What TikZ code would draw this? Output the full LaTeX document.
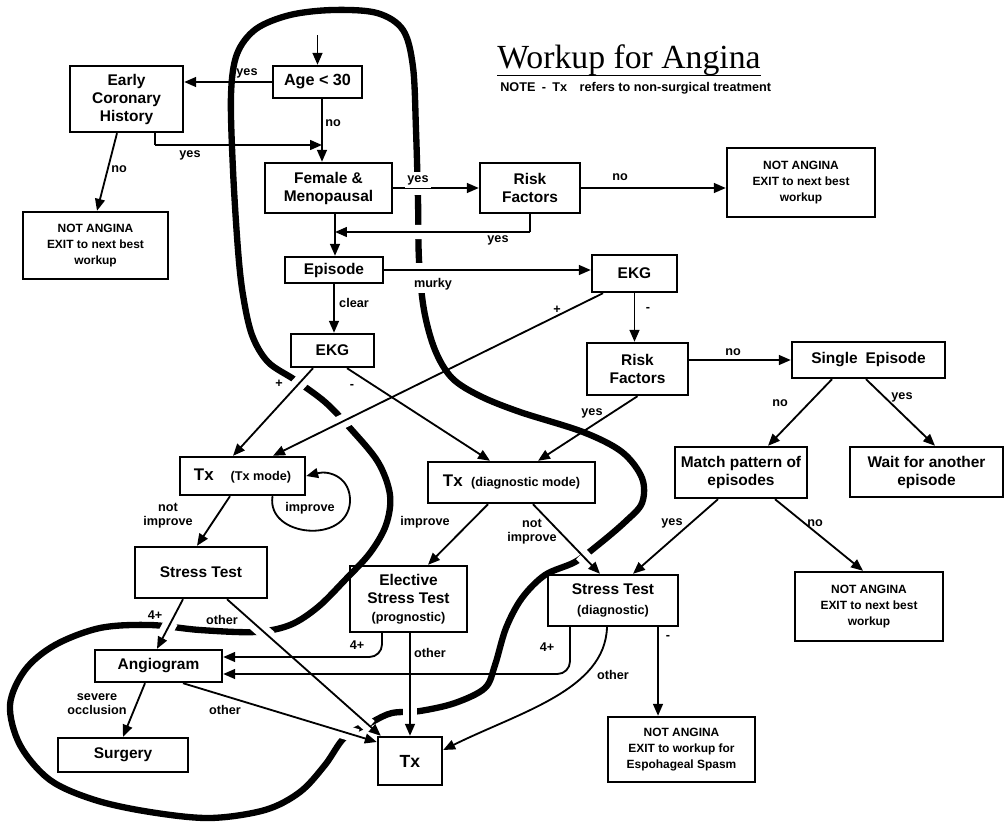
\documentclass[tikz,border=0pt]{standalone}
\usepackage{fontspec}
\setmainfont{Liberation Sans}
\newfontfamily\titlefont{Liberation Serif}
\usetikzlibrary{arrows.meta,calc}
\tikzset{
  box/.style={draw, line width=1.7pt, inner sep=0pt, align=center, font=\bfseries\fontsize{11}{12.8}\selectfont},
  exitbox/.style={box, font=\bfseries\fontsize{8.5}{11.5}\selectfont},
  lbl/.style={font=\bfseries\fontsize{9}{10}\selectfont, inner sep=1pt, align=center},
  wlbl/.style={lbl, fill=white, inner sep=2pt},
  arr/.style={line width=1.3pt, -{Triangle[length=8.5pt,width=7pt]}},
  plain/.style={line width=1.3pt},
  halo/.style={draw=white, line width=10pt},
  boundary/.style={line width=4.5pt, line cap=round, line join=round}
}
\newcommand{\smf}{\fontsize{9}{11}\selectfont}
\begin{document}
\begin{tikzpicture}[x=0.025cm, y=-0.025cm]
\useasboundingbox (0,0) rectangle (1006,822);

% ---------- boxes ----------
\node[box, minimum width=2.225cm, minimum height=0.8cm, font=\bfseries\fontsize{11.5}{13}\selectfont] (age) at (317.5,82) {Age < 30};
\node[box, minimum width=2.825cm, minimum height=1.65cm] (early) at (126.5,99) {Early\\Coronary\\History};
\node[exitbox, minimum width=3.625cm, minimum height=1.675cm] (na1) at (95.5,245.5) {NOT ANGINA\\EXIT to next best\\workup};
\node[box, minimum width=3.175cm, minimum height=1.25cm] (fem) at (328.5,188) {Female \&\\Menopausal};
\node[box, minimum width=2.5cm, minimum height=1.25cm] (risk1) at (530,188) {Risk\\Factors};
\node[exitbox, minimum width=3.7cm, minimum height=1.725cm] (na2) at (801,182.5) {NOT ANGINA\\EXIT to next best\\workup};
\node[box, minimum width=2.45cm, minimum height=0.65cm] (episode) at (334,270) {Episode};
\node[box, minimum width=2.125cm, minimum height=0.925cm] (ekg2) at (634.5,273.5) {EKG};
\node[box, minimum width=2.075cm, minimum height=0.825cm] (ekg1) at (332.5,350.5) {EKG};
\node[box, minimum width=2.525cm, minimum height=1.3cm] (risk2) at (637.5,369) {Risk\\Factors};
\node[box, minimum width=3.825cm, minimum height=0.9cm] (single) at (868.5,360) {Single\enspace Episode};
\node[box, minimum width=3.125cm, minimum height=0.95cm] (txm) at (242.5,476) {\fontsize{12}{13}\selectfont Tx\quad{\smf(Tx mode)}};
\node[box, minimum width=4.175cm, minimum height=1.025cm] (txd) at (511.5,482.5) {\fontsize{12}{13}\selectfont Tx\enspace{\smf(diagnostic mode)}};
\node[box, minimum width=3.3cm, minimum height=1.275cm] (match) at (741,472.5) {Match pattern of\\episodes};
\node[box, minimum width=3.825cm, minimum height=1.25cm] (wait) at (926.5,472) {Wait for another\\episode};
\node[box, minimum width=3.3cm, minimum height=1.275cm] (st) at (201,572.5) {Stress Test};
\node[box, minimum width=2.925cm, minimum height=1.65cm] (elec) at (408.5,599) {Elective\\Stress Test\\{\smf(prognostic)}};
\node[box, minimum width=3.25cm, minimum height=1.275cm] (std) at (613,600.5) {Stress Test\\[2pt]{\smf(diagnostic)}};
\node[exitbox, minimum width=3.7cm, minimum height=1.725cm] (na3) at (869,606.5) {NOT ANGINA\\EXIT to next best\\workup};
\node[box, minimum width=3.175cm, minimum height=0.8cm] (angio) at (158.5,666) {Angiogram};
\node[box, minimum width=3.25cm, minimum height=0.85cm] (surg) at (123,755) {Surgery};
\node[box, minimum width=1.6cm, minimum height=1.2cm, font=\bfseries\fontsize{12.5}{14}\selectfont] (tx) at (410,761) {Tx};
\node[exitbox, minimum width=3.675cm, minimum height=1.625cm] (na4) at (681.5,749.5) {NOT ANGINA\\EXIT to workup for\\Espohageal Spasm};

% ---------- title ----------
\node[anchor=base west, inner sep=0pt, font=\titlefont\fontsize{24}{26}\selectfont] (title) at (497,68) {Workup for Angina};
\draw[line width=1.1pt] (title.south west) -- (title.south east);
\node[anchor=base west, inner sep=0pt, font=\bfseries\fontsize{9}{10}\selectfont] (note) at (500,91) {NOTE\enspace-\enspace Tx\quad refers to non-surgical treatment};

% ---------- coordinates ----------
\coordinate (s0) at (317.5,35);
\coordinate (j0) at (155,145);
\coordinate (j1) at (322,145);
\coordinate (j2) at (335,232);
\coordinate (h1) at (382,657);
\coordinate (h2) at (570,674);
\coordinate (a5) at ([xshift=-0.2375cm]early.south);
\coordinate (b5) at ([xshift=0.0375cm]na1.north);
\coordinate (a14) at ([xshift=-0.9125cm]single.south);
\coordinate (b14) at ([xshift=0.675cm]match.north);
\coordinate (a15) at ([xshift=-0.0625cm]single.south);
\coordinate (b15) at ([xshift=0.2125cm]wait.north);
\coordinate (a16) at ([xshift=-0.575cm]match.south);
\coordinate (b16) at ([xshift=0.5cm]std.north);
\coordinate (a17) at ([xshift=0.85cm]match.south);
\coordinate (b17) at ([xshift=-0.15cm]na3.north);
\coordinate (b18) at ([xshift=0.6625cm]txd.north);
\coordinate (a19) at ([xshift=0.3625cm]ekg1.south);
\coordinate (b19) at ([xshift=-0.5375cm]txd.north);
\coordinate (a20) at ([xshift=-0.4875cm]ekg1.south);
\coordinate (b20) at ([xshift=-0.2375cm]txm.north);
\coordinate (a21) at ([xshift=-0.7875cm]ekg2.south);
\coordinate (b21) at ([xshift=0.7625cm]txm.north);
\coordinate (a22) at ([xshift=0.75cm]txm.south);
\coordinate (a23) at ([xshift=-0.3125cm]txm.south);
\coordinate (b23) at ([xshift=-0.1cm]st.north);
\coordinate (a24) at ([xshift=-0.5875cm]txd.south);
\coordinate (b24) at ([xshift=0.4875cm]elec.north);
\coordinate (a25) at ([xshift=0.5375cm]txd.south);
\coordinate (b25) at ([xshift=-0.325cm]std.north);
\coordinate (a26) at ([xshift=-0.45cm]st.south);
\coordinate (b26) at ([xshift=-0.0375cm]angio.north);
\coordinate (a27) at ([xshift=0.65cm]st.south);
\coordinate (b27) at ([xshift=0.1cm]tx.north west);
\coordinate (a30) at (elec.south -| tx.north);
\coordinate (a31) at ([xshift=-0.15cm]std.south);
\coordinate (b31) at ([yshift=0.275cm]tx.east);
\coordinate (a32) at ([xshift=1.125cm]std.south);
\coordinate (a33) at ([xshift=-0.3375cm]angio.south);
\coordinate (a34) at ([xshift=0.6125cm]angio.south);
\coordinate (b34) at ([yshift=0.475cm]tx.west);

% label partly hidden by the boundary
\node[lbl] (lyes0) at (247,73) {yes};

% ---------- thick boundary ----------
\draw[boundary] plot[smooth cycle, tension=0.55] coordinates {
 (231,95) (237,54) (256,29) (290,15) (333,10) (377,13) (403,30) (413,67)
 (416,130) (418,200) (419,260) (424,310) (435,350) (452,378) (480,396)
 (520,412) (583,432) (622,452) (642,478) (642,503) (625,522) (598,545)
 (575,562) (545,575) (522,598) (506,628) (495,665) (485,688) (455,703)
 (420,711) (392,713) (372,722) (345,737) (325,765) (300,792) (265,810)
 (210,818) (150,812) (95,800) (50,780) (20,745) (10,705) (25,670)
 (55,645) (100,628) (150,625) (200,630) (255,632) (290,625) (318,607)
 (345,580) (370,553) (386,525) (390,495) (378,462) (350,428) (325,402)
 (295,380) (268,362) (252,335) (243,295) (238,250) (233,170)};

% ---------- gaps in the boundary ----------
\draw[halo] ($(fem.east)!0.2!(risk1.west)$) -- ($(fem.east)!0.4!(risk1.west)$);
\draw[halo] ($(risk1.south |- j2)!0.5!(j2)$) -- ($(risk1.south |- j2)!0.65!(j2)$);
\draw[halo] ($(episode.east)!0.1!(episode.east -| ekg2.west)$) -- ($(episode.east)!0.25!(episode.east -| ekg2.west)$);
\draw[halo] ($(a20)!0.06!(b20)$) -- ($(a20)!0.3!(b20)$);
\draw[halo] ($(a21)!0.73!(b21)$) -- ($(a21)!0.83!(b21)$);
\draw[halo] ($(a25)!0.72!(b25)$) -- ($(a25)!0.92!(b25)$);
\draw[halo] ($(a26)!0.45!(b26)$) -- ($(a26)!0.7!(b26)$);
\draw[halo] ($(a27)!0.14!(b27)$) -- ($(a27)!0.28!(b27)$);
\draw[halo] ($(a27)!0.84!(b27)$) -- ($(a27)!0.93!(b27)$);
\draw[halo] ($(a30)!0.68!(tx.north)$) -- ($(a30)!0.84!(tx.north)$);
\draw[halo] ($(a34)!0.78!(b34)$) -- ($(a34)!0.9!(b34)$);

% ---------- connectors ----------
\draw[arr] (s0) -- (age.north);
\draw[arr] (age.west) -- (age.west -| early.east);
\draw[plain] (early.south -| j0) -- (j0);
\draw[arr] (j0) -- (j1);
\draw[arr] (age.south -| j1) -- (fem.north -| j1);
\draw[arr] (a5) -- (b5);
\draw[arr] (fem.east) -- (risk1.west);
\draw[arr] (risk1.east) -- (na2.west |- risk1.east);
\draw[plain] (risk1.south) -- (risk1.south |- j2);
\draw[arr] (risk1.south |- j2) -- (j2);
\draw[arr] (fem.south -| j2) -- (episode.north -| j2);
\draw[arr] (episode.east) -- (episode.east -| ekg2.west);
\draw[arr] (episode.south) -- (episode.south |- ekg1.north);
\draw[arr] (ekg2.south) -- (ekg2.south |- risk2.north);
\draw[arr] (risk2.east |- single.west) -- (single.west);
\draw[arr] (a14) -- (b14);
\draw[arr] (a15) -- (b15);
\draw[arr] (a16) -- (b16);
\draw[arr] (a17) -- (b17);
\draw[arr] (risk2.south) -- (b18);
\draw[arr] (a20) -- (b20);
\draw[arr] (a21) -- (b21);
\draw[arr] (a19) -- (b19);
\draw[arr] (a22) .. controls (266,537) and (347,545) .. (350,502) .. controls (351,478) and (330,470) .. (txm.east);
\draw[arr] (a23) -- (b23);
\draw[arr] (a24) -- (b24);
\draw[arr] (a25) -- (b25);
\draw[arr] (a26) -- (b26);
\draw[arr] (a27) -- (b27);
\draw[arr] (a30) -- (tx.north);
\draw[arr, rounded corners=9pt] (elec.south -| h1) -- (h1) -- (h1 -| angio.east);
\draw[arr, rounded corners=9pt] (std.south -| h2) -- (h2) -- (h2 -| angio.east);
\draw[arr] (a31) .. controls (605,690) and (520,712) .. (b31);
\draw[arr] (a32) -- (a32 |- na4.north);
\draw[arr] (a33) -- (surg.north);
\draw[arr] (a34) -- (b34);

% ---------- labels ----------
\node[lbl] (l1) at (333,123) {no};
\node[lbl] (l2) at (190,155) {yes};
\node[lbl] (l3) at (119,169) {no};
\node[wlbl] (l4) at (418,180) {yes};
\node[lbl] (l5) at (620,177) {no};
\node[lbl] (l6) at (498,240) {yes};
\node[wlbl] (l7) at (433,284) {murky};
\node[lbl] (l8) at (354,303) {clear};
\node[lbl] (l9) at (648,309) {-};
\node[lbl] (l10) at (557,310) {+};
\node[lbl] (l11) at (279,384) {+};
\node[lbl] (l12) at (352,386) {-};
\node[lbl] (l13) at (733,352) {no};
\node[lbl] (l14) at (780,403) {no};
\node[lbl] (l15) at (902,397) {yes};
\node[lbl] (l16) at (592,413) {yes};
\node[lbl] (l17) at (310,508) {improve};
\node[lbl] (l18) at (168,516) {not\\improve};
\node[lbl] (l19) at (425,522) {improve};
\node[lbl] (l20) at (532,532) {not\\improve};
\node[lbl] (l21) at (672,523) {yes};
\node[lbl] (l22) at (815,523) {no};
\node[lbl] (l23) at (155,615) {4+};
\node[lbl] (l24) at (222,620) {other};
\node[lbl] (l25) at (357,645) {4+};
\node[lbl] (l26) at (430,653) {other};
\node[lbl] (l27) at (547,647) {4+};
\node[lbl] (l28) at (668,637) {-};
\node[lbl] (l29) at (613,675) {other};
\node[lbl] (l30) at (97,704) {severe\\occlusion};
\node[lbl] (l31) at (225,710) {other};
\end{tikzpicture}
\end{document}
